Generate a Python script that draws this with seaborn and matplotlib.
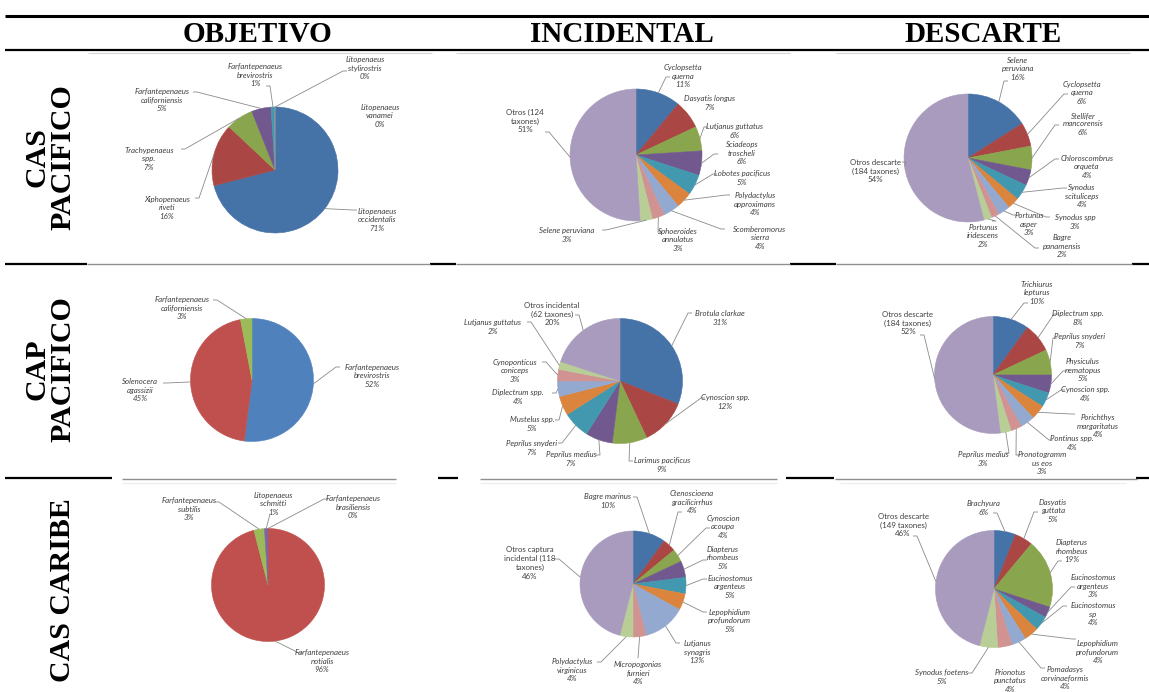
import numpy as np
import matplotlib
matplotlib.use("Agg")
import matplotlib.pyplot as plt
import seaborn as sns

# ---------------------------------------------------------------- data
# Row 1: CAS Pacifico
obj_cas_pac_names = ["Litopenaeus\noccidentalis", "Xiphopenaeus\nriveti", "Trachypenaeus\nspp.",
                     "Farfantepenaeus\ncaliforniensis", "Farfantepenaeus\nbrevirostris",
                     "Litopenaeus\nstylirostris", "Litopenaeus\nvanamei"]
obj_cas_pac_pct = [71, 16, 7, 5, 1, 0, 0]

inc_cas_pac_names = ["Cyclopsetta\nquerna", "Dasyatis longus", "Lutjanus guttatus", "Sciadeops\ntroscheli",
                     "Lobotes pacificus", "Polydactylus\napproximans", "Scomberomorus\nsierra",
                     "Sphoeroides\nannulatus", "Selene peruviana", "Otros (124\ntaxones)"]
inc_cas_pac_pct = [11, 7, 6, 6, 5, 4, 4, 3, 3, 51]

des_cas_pac_names = ["Selene\nperuviana", "Cyclopsetta\nquerna", "Stellifer\nmancorensis",
                     "Chloroscombrus\norqueta", "Synodus\nscituliceps", "Synodus spp", "Portunus\nasper",
                     "Bagre\npanamensis", "Portunus\niridescens", "Otros descarte\n(184 taxones)"]
des_cas_pac_pct = [16, 6, 6, 4, 4, 3, 3, 2, 2, 54]

# Row 2: CAP Pacifico
obj_cap_pac_names = ["Farfantepenaeus\nbrevirostris", "Solenocera\nagassizii", "Farfantepenaeus\ncaliforniensis"]
obj_cap_pac_pct = [52, 45, 3]

inc_cap_pac_names = ["Brotula clarkae", "Cynoscion spp.", "Larimus pacificus", "Peprilus medius",
                     "Peprilus snyderi", "Mustelus spp.", "Diplectrum spp.", "Cynoponticus\nconiceps",
                     "Lutjanus guttatus", "Otros incidental\n(62 taxones)"]
inc_cap_pac_pct = [31, 12, 9, 7, 7, 5, 4, 3, 2, 20]

des_cap_pac_names = ["Trichiurus\nlepturus", "Diplectrum spp.", "Peprilus snyderi", "Physiculus\nnematopus",
                     "Cynoscion spp.", "Porichthys\nmargaritatus", "Pontinus spp.", "Pronotogramm\nus eos",
                     "Peprilus medius", "Otros descarte\n(184 taxones)"]
des_cap_pac_pct = [10, 8, 7, 5, 4, 4, 4, 3, 3, 52]

# Row 3: CAS Caribe
obj_cas_car_names = ["Farfantepenaeus\nbrasiliensis", "Farfantepenaeus\nnotialis",
                     "Farfantepenaeus\nsubtilis", "Litopenaeus\nschmitti"]
obj_cas_car_pct = [0, 96, 3, 1]

inc_cas_car_names = ["Bagre marinus", "Ctenoscioena\ngracilicirrhus", "Cynoscion\nacoupa", "Diapterus\nrhombeus",
                     "Eucinostomus\nargenteus", "Lepophidium\nprofundorum", "Lutjanus\nsynagris",
                     "Micropogonias\nfurnieri", "Polydactylus\nvirginicus",
                     "Otros captura\nincidental (118\ntaxones)"]
inc_cas_car_pct = [10, 4, 4, 5, 5, 5, 13, 4, 4, 46]

des_cas_car_names = ["Brachyura", "Dasyatis\nguttata", "Diapterus\nrhombeus", "Eucinostomus\nargenteus",
                     "Eucinostomus\nsp", "Lepophidium\nprofundorum", "Pomadasys\ncorvinaeformis",
                     "Prionotus\npunctatus", "Synodus foetens", "Otros descarte\n(149 taxones)"]
des_cas_car_pct = [6, 5, 19, 3, 4, 4, 4, 4, 5, 46]

col_headers = ["OBJETIVO", "INCIDENTAL", "DESCARTE"]
row_headers = ["CAS\nPACIFICO", "CAP\nPACIFICO", "CAS CARIBE"]

# ---------------------------------------------------------------- layout (pixels, y measured from top)
W, H = 1149, 692

# pie centre x, centre y, radius
geom = {
    "obj_cas_pac": (275, 170, 63), "inc_cas_pac": (636, 155, 66), "des_cas_pac": (968, 158, 64),
    "obj_cap_pac": (252, 380, 61.5), "inc_cap_pac": (620, 381, 62.5), "des_cap_pac": (993, 375, 58.5),
    "obj_cas_car": (268, 585, 56.5), "inc_cas_car": (633, 584, 53), "des_cas_car": (994, 589, 58.5),
}

# label centre positions
text_xy = {
    "obj_cas_pac": [(377, 220), (167, 208), (149, 159), (162, 100), (255, 75), (365, 68), (380, 116)],
    "inc_cas_pac": [(683, 76), (710, 103), (735, 131), (742, 153), (742, 178), (755, 204), (760, 238),
                    (678, 240), (567, 235), (525, 121)],
    "des_cas_pac": [(1018, 69), (1082, 93), (1083, 124), (1087, 167), (1082, 196), (1075, 222),
                    (1029, 224), (1062, 246), (983, 236), (875, 171)],
    "obj_cap_pac": [(372, 376), (140, 390), (182, 308)],
    "inc_cap_pac": [(720, 318), (725, 402), (662, 465), (571, 459), (532, 448), (532, 424), (518, 397),
                    (515, 371), (493, 327), (552, 314)],
    "des_cap_pac": [(1037, 293), (1078, 318), (1080, 341), (1083, 370), (1085, 394), (1098, 426),
                    (1072, 443), (1042, 463), (983, 459), (908, 323)],
    "obj_cas_car": [(353, 507), (322, 661), (189, 509), (273, 504)],
    "inc_cas_car": [(608, 501), (692, 502), (723, 527), (723, 558), (730, 587), (730, 621), (697, 652),
                    (638, 673), (572, 670), (530, 563)],
    "des_cas_car": [(984, 508), (1053, 511), (1072, 551), (1093, 586), (1093, 614), (1098, 652),
                    (1065, 678), (1010, 681), (942, 677), (903, 525)],
}

# leader line end points next to each label (None = no leader)
line_end = {
    "obj_cas_pac": [(357, 210), (195, 198), (181, 149), (193, 92), (266, 86), (347, 71), None],
    "inc_cas_pac": [(670, 77), None, (708, 127), (718, 154), (717, 174), (730, 195), (725, 229),
                    (662, 232), (602, 230), (545, 132)],
    "des_cas_pac": [(1008, 81), (1068, 94), (1059, 125), (1059, 159), (1067, 188), (1050, 217),
                    (1017, 215), (1039, 248), (992, 221), (902, 162)],
    "obj_cap_pac": [(340, 367), (163, 383), (213, 300)],
    "inc_cap_pac": [(692, 313), (705, 398), (633, 461), (596, 455), (558, 443), (555, 420), (552, 393),
                    (542, 362), (527, 322), (575, 315)],
    "des_cap_pac": [(1028, 303), (1058, 314), (1057, 338), (1067, 371), (1065, 390), (1075, 414),
                    (1053, 440), (1020, 455), (1005, 453), (920, 335)],
    "obj_cas_car": [(328, 499), (303, 653), (215, 502), (270, 514)],
    "inc_cas_car": [(633, 497), (682, 512), (710, 528), (707, 560), (707, 579), (707, 612), (680, 643),
                    (638, 658), (597, 662), (555, 559)],
    "des_cas_car": [(993, 513), (1038, 512), (1062, 561), (1075, 587), (1067, 606), (1076, 639),
                    (1045, 668), None, (968, 673), (913, 536)],
}

# ---------------------------------------------------------------- styling
sns.set_theme(style="white")
plt.rcParams["font.family"] = ["Lato", "DejaVu Sans"]

office_dark = sns.color_palette(["#4572A7", "#AA4643", "#89A54E", "#71588F", "#4198AF",
                                 "#DB843D", "#93A9CF", "#D19392", "#B9CD96", "#A99BBD"])
office_bright = sns.color_palette(["#4F81BD", "#C0504D", "#9BBB59", "#8064A2", "#4BACC6",
                                   "#F79646", "#95B3D7", "#D99694", "#C3D69B", "#B3A2C7"])

panels = [
    ("obj_cas_pac", obj_cas_pac_names, obj_cas_pac_pct, office_dark),
    ("inc_cas_pac", inc_cas_pac_names, inc_cas_pac_pct, office_dark),
    ("des_cas_pac", des_cas_pac_names, des_cas_pac_pct, office_dark),
    ("obj_cap_pac", obj_cap_pac_names, obj_cap_pac_pct, office_bright),
    ("inc_cap_pac", inc_cap_pac_names, inc_cap_pac_pct, office_dark),
    ("des_cap_pac", des_cap_pac_names, des_cap_pac_pct, office_dark),
    ("obj_cas_car", obj_cas_car_names, obj_cas_car_pct, office_bright),
    ("inc_cas_car", inc_cas_car_names, inc_cas_car_pct, office_dark),
    ("des_cas_car", des_cas_car_names, des_cas_car_pct, office_dark),
]

fig = plt.figure(figsize=(W / 100, H / 100), dpi=100)
fig.patch.set_facecolor("white")
ax = fig.add_axes([0, 0, 1, 1])


def fy(y):
    return H - y


label_color = "#3f3f3f"
leader_color = "#8a8a8a"

for key, names, pct, pal in panels:
    cx, cy, r = geom[key]
    wedges, _ = ax.pie(pct, colors=pal[:len(pct)], startangle=90, counterclock=False,
                       center=(cx, fy(cy)), radius=r, wedgeprops=dict(linewidth=0.4))
    for w in wedges:
        w.set_edgecolor(w.get_facecolor())
    bounds = np.concatenate([[0], np.cumsum(pct)]) / float(sum(pct))
    for i, (name, v) in enumerate(zip(names, pct)):
        mid = 0.5 * (bounds[i] + bounds[i + 1])
        ang = np.deg2rad(90 - 360 * mid)
        sx, sy = cx + r * np.cos(ang), fy(cy) + r * np.sin(ang)
        tx, ty = text_xy[key][i]
        is_other = name.startswith("Otros")
        ax.text(tx, fy(ty), f"{name}\n{v:.0f}%", ha="center", va="center",
                multialignment="center", fontsize=5.7, linespacing=1.3,
                style="normal" if is_other else "italic", color=label_color)
        end = line_end[key][i]
        if end is not None:
            ex, ey = end
            side = 1 if tx > ex else -1
            if abs(tx - ex) > 4:
                elbow = (ex - side * 4, fy(ey))
                ax.plot([sx, elbow[0], ex], [sy, elbow[1], fy(ey)], color=leader_color, lw=0.6,
                        solid_capstyle="butt")
            else:
                ax.plot([sx, ex], [sy, fy(ey)], color=leader_color, lw=0.6)

# ---------------------------------------------------------------- table rules
black = "#000000"


def hline(y, x0, x1, color, lw):
    ax.plot([x0, x1], [fy(y), fy(y)], color=color, lw=lw, solid_capstyle="butt")


hline(16, 5, W, black, 2.2)
hline(50, 5, W, black, 1.6)
for x0, x1 in [(88, 432), (456, 790), (836, 1130)]:
    hline(52.5, x0, x1, "#d6d6d6", 0.8)

for x0, x1 in [(5, 87), (430, 456), (790, 836), (1132, W)]:
    hline(264, x0, x1, black, 1.6)
for x0, x1 in [(87, 430), (456, 790), (836, 1132)]:
    hline(264, x0, x1, "#8f8f8f", 1.0)

for x0, x1 in [(5, 112), (438, 458), (786, 834), (1136, W)]:
    hline(478, x0, x1, black, 1.6)
for x0, x1 in [(122, 396), (480, 777), (835, 1137)]:
    hline(478.5, x0, x1, "#8f8f8f", 1.0)
for x0, x1 in [(122, 396), (480, 777), (840, 1126)]:
    hline(483, x0, x1, "#ececec", 0.8)

# ---------------------------------------------------------------- headers
serif = ["Liberation Serif", "DejaVu Serif"]
for x, label in zip([258, 622, 983], col_headers):
    ax.text(x, fy(34), label, ha="center", va="center", fontsize=21, fontweight="bold",
            family=serif, color="black")

for (x, y), label in zip([(50, 157), (50, 369), (63, 590)], row_headers):
    ax.text(x, fy(y), label, ha="center", va="center", rotation=90, fontsize=21.5,
            fontweight="bold", family=serif, color="black", linespacing=0.95,
            multialignment="center")

ax.set_xlim(0, W)
ax.set_ylim(0, H)
ax.set_aspect("equal")
ax.set_axis_off()

fig.savefig("out.png", dpi=100, facecolor="white")
